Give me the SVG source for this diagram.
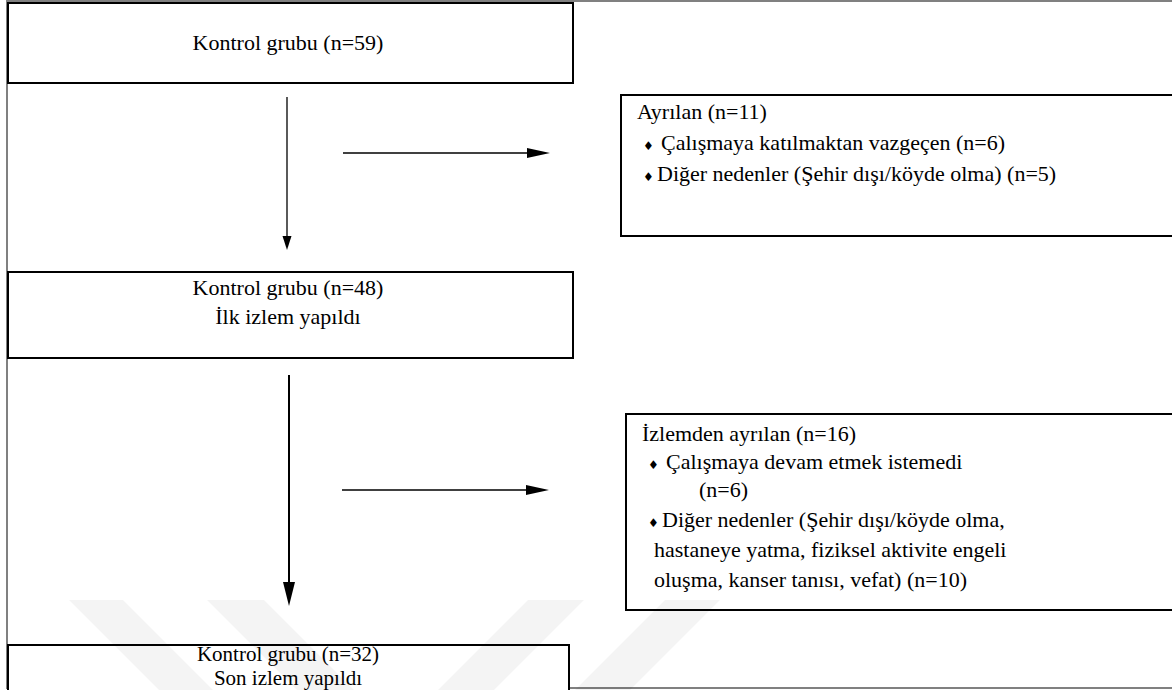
<svg xmlns="http://www.w3.org/2000/svg" width="1172" height="690" viewBox="0 0 1172 690">
<style>
.box{fill:#fff;stroke:#000;stroke-width:2}
.t{font-family:"Liberation Serif","Times New Roman",serif;font-size:22px;fill:#000}
.c{text-anchor:middle}
.b{font-family:"DejaVu Sans",sans-serif;font-size:12px;fill:#000}
.wm{fill:#000;fill-opacity:0.045}
.frame{stroke:#808080;stroke-width:2;fill:none}
.ln{stroke:#000;fill:none}
</style>
<rect width="1172" height="690" fill="#fff"/>
<g id="frame">
<path class="frame" d="M1172,1 H7 V688 H1172"/>
</g>
<g id="connectors">
<line class="ln" x1="287" y1="97" x2="287" y2="237" stroke-width="1.3"/>
<polygon points="282.5,236 291.5,236 287,250"/>
<line class="ln" x1="343" y1="153" x2="529" y2="153" stroke-width="1.3"/>
<polygon points="527,148 527,158 550,153"/>
<line class="ln" x1="289" y1="375" x2="289" y2="584" stroke-width="2"/>
<polygon points="283,582 295,582 289,606"/>
<line class="ln" x1="342" y1="490" x2="528" y2="490" stroke-width="1.3"/>
<polygon points="526,485 526,495 549,490"/>
</g>
<g id="node-kontrol59">
<rect class="box" x="8" y="3" width="565" height="80"/>
<text class="t c" x="288" y="50" font-family="Liberation Serif, serif">Kontrol grubu (n=59)</text>
</g>
<g id="node-ayrilan">
<rect class="box" x="621" y="95" width="620" height="141"/>
<text class="t" x="637" y="119" font-family="Liberation Serif, serif">Ayrılan (n=11)</text>
<text class="b" x="643" y="150">♦</text>
<text class="t" x="661" y="150" font-family="Liberation Serif, serif">Çalışmaya katılmaktan vazgeçen (n=6)</text>
<text class="b" x="643" y="181">♦</text>
<text class="t" x="657" y="181" font-family="Liberation Serif, serif">Diğer nedenler (Şehir dışı/köyde olma) (n=5)</text>
</g>
<g id="node-kontrol48">
<rect class="box" x="8" y="272" width="565" height="86"/>
<text class="t c" x="288" y="295" font-family="Liberation Serif, serif">Kontrol grubu (n=48)</text>
<text class="t c" x="288" y="324" font-family="Liberation Serif, serif">İlk izlem yapıldı</text>
</g>
<g id="node-izlemden">
<rect class="box" x="626" y="414" width="620" height="196"/>
<text class="t" x="642" y="441" font-family="Liberation Serif, serif">İzlemden ayrılan (n=16)</text>
<text class="b" x="648" y="469">♦</text>
<text class="t" x="666" y="469" font-family="Liberation Serif, serif">Çalışmaya devam etmek istemedi</text>
<text class="t" x="699" y="497" font-family="Liberation Serif, serif">(n=6)</text>
<text class="b" x="648" y="527">♦</text>
<text class="t" x="662" y="527" font-family="Liberation Serif, serif">Diğer nedenler (Şehir dışı/köyde olma,</text>
<text class="t" x="654" y="557" font-family="Liberation Serif, serif">hastaneye yatma, fiziksel aktivite engeli</text>
<text class="t" x="654" y="587" font-family="Liberation Serif, serif">oluşma, kanser tanısı, vefat) (n=10)</text>
</g>
<g id="node-kontrol32">
<rect class="box" x="8" y="645" width="561" height="60"/>
<text class="t c" x="288" y="661" font-family="Liberation Serif, serif" font-size="21" style="font-size:21px">Kontrol grubu (n=32)</text>
<text class="t c" x="288" y="685" font-family="Liberation Serif, serif" font-size="21" style="font-size:21px">Son izlem yapıldı</text>
</g>
<g id="watermark">
<polygon class="wm" points="69,600 123,600 213,690 159,690"/>
<polygon class="wm" points="207,600 264,600 354,690 297,690"/>
<polygon class="wm" points="528,600 584,600 494,690 438,690"/>
<polygon class="wm" points="665,600 720,600 630,690 575,690"/>
</g>
</svg>
